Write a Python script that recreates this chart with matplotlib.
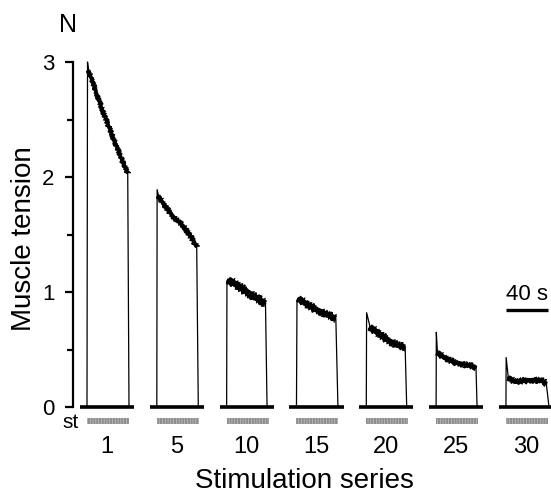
import matplotlib
matplotlib.use("Agg")
import matplotlib.pyplot as plt
from matplotlib.patches import Rectangle

plt.rcParams['font.family'] = ['Liberation Sans', 'DejaVu Sans']
plt.rcParams['hatch.linewidth'] = 0.5

# series numbers shown under each trace
series = [1, 5, 10, 15, 20, 25, 30]

# tension traces, time (s) from stimulation onset and tension (N)
trace_t = [
    [0.5, 1.5, 6.0, 15.5, 25.0, 34.5, 38.8],
    [0.3, 1.5, 6.7, 16.2, 25.7, 35.2, 38.0],
    [0.3, 1.5, 9.8, 19.3, 28.9, 37.0],
    [0.5, 2.0, 8.6, 18.1, 27.6, 37.5],
    [0.3, 3.5, 13.0, 22.6, 32.1, 37.0],
    [0.2, 1.2, 7.6, 17.1, 26.7, 36.5, 38.0],
    [0.2, 2.2, 8.6, 18.1, 27.6, 35.5, 38.5],
]
trace_v = [
    [3.00, 2.93, 2.81, 2.56, 2.34, 2.12, 2.03],
    [1.89, 1.84, 1.76, 1.65, 1.57, 1.44, 1.39],
    [1.10, 1.11, 1.06, 1.00, 0.945, 0.90],
    [0.93, 0.95, 0.90, 0.85, 0.81, 0.77],
    [0.82, 0.70, 0.63, 0.57, 0.53, 0.52],
    [0.65, 0.48, 0.43, 0.39, 0.37, 0.35, 0.34],
    [0.43, 0.26, 0.22, 0.23, 0.235, 0.225, 0.20],
]
# time where tension is back to zero
trace_off = [40.0, 39.5, 38.5, 39.5, 38.5, 39.0, 41.0]

stim_len = 40      # s, stimulation train
scale_len = 40     # s, scale bar
yticks = [0, 1, 2, 3]

# layout (pixels of the 551x495 figure)
W, H = 551, 495
px_per_s = 1.05
px_per_N = 115.0
spine_x = 72.5
zero_row = 407
gap = 66.5         # s between series
first_on = 13.8    # s, onset of first series
band_px = [5.0, 5.5, 9.0, 8.0, 8.0, 6.5, 6.5]   # noise band thickness, px

fig = plt.figure(figsize=(W / 100, H / 100), dpi=100)
ax = fig.add_axes([spine_x / W, 0, (W - spine_x) / W, 1])
ax.set_xlim(0, (W - spine_x) / px_per_s)
ax.set_ylim((zero_row - H) / px_per_N, zero_row / px_per_N)

for s in ['top', 'right', 'bottom']:
    ax.spines[s].set_visible(False)
ax.spines['left'].set_linewidth(1.6)
ax.spines['left'].set_bounds(0, 3)
ax.set_xticks([])
ax.set_yticks(yticks)
ax.set_yticks([0.5, 1.5, 2.5], minor=True)
ax.tick_params(axis='y', which='major', length=6, width=1.6, labelsize=16, pad=7)
ax.tick_params(axis='y', which='minor', length=4, width=1.6)

for i, num in enumerate(series):
    on = first_on + i * gap
    t = [on] + [on + x for x in trace_t[i]] + [on + trace_off[i]]
    v = [0] + trace_v[i] + [0]
    w = band_px[i]
    ax.plot(t, v, color='black', lw=0.9)
    ax.plot(t[2:-1], v[2:-1], color='black', lw=w * 0.72 * 0.7, solid_capstyle='butt')
    for k in range(3):
        band, = ax.plot(t[2:-1], v[2:-1], color='black', lw=0.9)
        band.set_sketch_params(scale=w * 0.5, length=1.0 + 0.6 * k, randomness=4)

    # baseline
    ax.plot([on - 6.7, on + 44.8], [0, 0], color='black', lw=2.6, solid_capstyle='butt')
    # stimulation marker
    ax.add_patch(Rectangle((on, -0.148), stim_len, 0.052, facecolor='#8e8e8e',
                           edgecolor='#c4c4c4', hatch='||||||', lw=0))
    ax.text(on + 19, -0.35, str(num), ha='center', va='center', fontsize=17)

# scale bar
sx = (506 - spine_x) / px_per_s
ax.plot([sx, sx + scale_len], [0.843, 0.843], color='black', lw=2.4, solid_capstyle='butt')
ax.text(sx + scale_len / 2, 0.975, f"{scale_len} s", ha='center', va='center', fontsize=16)

fig.text(70.5 / W, 1 - 422 / H, "st", ha='center', va='center', fontsize=15)
fig.text(68 / W, 1 - 25 / H, "N", ha='center', va='center', fontsize=18)
fig.text(24 / W, 1 - 239 / H, "Muscle tension", ha='center', va='center',
         rotation=90, fontsize=20)
fig.text(304 / W, 1 - 481 / H, "Stimulation series", ha='center', va='center', fontsize=20)

fig.savefig("out.png", dpi=100)
